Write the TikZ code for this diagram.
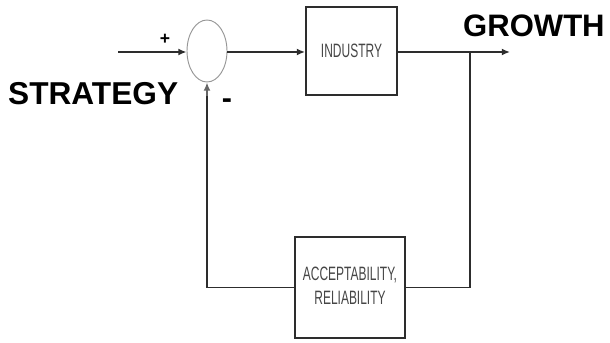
\documentclass[tikz,border=0pt]{standalone}
\usepackage{fontspec}
\setmainfont{Liberation Sans}
\usepackage{graphicx}
\usetikzlibrary{shapes.geometric,arrows.meta,positioning,calc}
\definecolor{lineDark}{RGB}{45,45,45}
\definecolor{lineGray}{RGB}{150,150,150}
\definecolor{labelGray}{RGB}{70,70,70}
\newcommand{\narrowtext}[1]{\scalebox{0.62}[1]{#1}}
\tikzset{
  blockbox/.style={draw=lineDark, line width=1.6pt, inner sep=0pt,
    text=labelGray, font=\fontsize{16.5}{21}\selectfont, align=center},
  sumnode/.style={draw=lineGray, ellipse, line width=0.8pt,
    minimum width=1.2cm, minimum height=1.86cm, inner sep=0pt},
  signal/.style={draw=lineDark, line width=1.4pt, -{Latex[length=7pt,width=6pt]}},
  wire/.style={draw=lineDark, line width=1.4pt},
  bigword/.style={font=\fontsize{27}{30}\selectfont\bfseries, inner sep=0pt}
}
\begin{document}
\begin{tikzpicture}[x=0.03cm,y=-0.03cm]
        \useasboundingbox (0,0) rectangle (610,343);
        % Blocks
        \node[sumnode] (sum) at (207,51) {};
        \node[blockbox, minimum width=2.73cm, minimum height=2.64cm] (industry) at (351.5,51)
          {\narrowtext{INDUSTRY}};
        \node[blockbox, minimum width=3.3cm, minimum height=3.03cm] (accept) at (350,287.5)
          {\narrowtext{\begin{tabular}{@{}c@{}}ACCEPTABILITY,\\RELIABILITY\end{tabular}}};
        % Free ends
        \coordinate (input) at (118,52);
        \coordinate (branch) at (470,52);
        \coordinate (output) at (510,52);
        % Forward path
        \draw[signal] (input) -- (sum.west |- input);
        \draw[signal] (sum.east |- input) -- (industry.west |- input);
        \draw[signal] (industry.east |- input) -- (output);
        % Feedback path
        \draw[wire] (branch) |- (accept.east);
        \draw[wire] (accept.west) -| ($(sum.south)+(0,14)$);
        \draw[signal, draw=black!60] ($(sum.south)+(0,14)$) -- (sum.south);
        % Labels
        \node[bigword, anchor=base west] (strategy) at (8,105) {STRATEGY};
        \node[bigword, font=\fontsize{26.5}{30}\selectfont\bfseries, anchor=base west] (growth) at (463,37) {GROWTH};
        \node[font=\fontsize{15}{18}\selectfont\bfseries, inner sep=0pt] (plus) at (165,39) {+};
        \node[font=\fontsize{26}{28}\selectfont\bfseries, inner sep=0pt] (minus) at (227,104) {-};
      \end{tikzpicture}
\end{document}
